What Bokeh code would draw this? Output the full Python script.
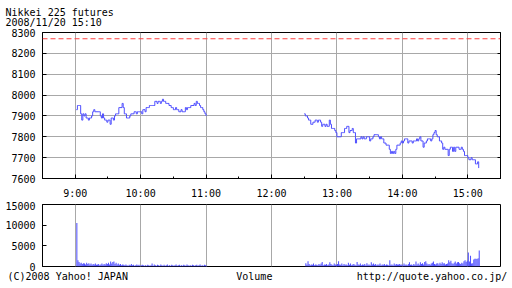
from bokeh.plotting import figure
from bokeh.models import (FixedTicker, LinearAxis, Span, Range1d, Title,
                          CustomJSTickFormatter)
from bokeh.layouts import column
from bokeh.embed import file_html
from bokeh.resources import INLINE

TITLE = "Nikkei 225 futures"
STAMP = "2008/11/20 15:10"
FOOT_LEFT = "(C)2008 Yahoo! JAPAN"
FOOT_MID = "Volume"
FOOT_RIGHT = "http://quote.yahoo.co.jp/"

hour_ticks = [9, 10, 11, 12, 13, 14, 15]
hour_labels = ["9:00", "10:00", "11:00", "12:00", "13:00", "14:00", "15:00"]
half_ticks = [8.5, 9.5, 10.5, 11.5, 12.5, 13.5, 14.5, 15.5]
price_ticks = [7600, 7700, 7800, 7900, 8000, 8100, 8200, 8300]
volume_ticks = [0, 5000, 10000, 15000]
prev_close = 8270

# morning session: one close per minute, 9:01 .. 11:00
am_start_min = 9 * 60 + 1
am_price = [
    7930, 7950, 7950, 7950, 7910, 7880, 7910, 7900, 7910, 7890,
    7890, 7880, 7890, 7890, 7900, 7920, 7930, 7920, 7920, 7920,
    7920, 7920, 7900, 7890, 7910, 7890, 7880, 7880, 7870, 7880,
    7880, 7860, 7890, 7890, 7880, 7900, 7910, 7910, 7910, 7940,
    7940, 7940, 7960, 7940, 7910, 7910, 7890, 7890, 7890, 7900,
    7910, 7910, 7910, 7920, 7920, 7910, 7920, 7920, 7920, 7920,
    7910, 7930, 7930, 7920, 7940, 7940, 7940, 7950, 7950, 7950,
    7950, 7950, 7970, 7970, 7960, 7970, 7970, 7960, 7970, 7980,
    7970, 7970, 7960, 7960, 7960, 7950, 7950, 7940, 7940, 7930,
    7930, 7940, 7930, 7930, 7920, 7920, 7930, 7920, 7920, 7920,
    7940, 7930, 7940, 7940, 7940, 7950, 7950, 7950, 7960, 7950,
    7970, 7960, 7960, 7950, 7940, 7940, 7930, 7920, 7910, 7900,
]
am_volume = [
    10500, 1500, 1100, 700, 900, 600, 800, 700, 500, 900,
    600, 800, 500, 700, 400, 600, 500, 700, 400, 500,
    600, 300, 500, 700, 400, 600, 500, 800, 600, 900,
    500, 1200, 700, 1100, 1200, 600, 900, 500, 700, 400,
    600, 300, 500, 400, 300, 500, 300, 200, 400, 300,
    600, 300, 400, 200, 300, 500, 300, 400, 200, 300,
    400, 300, 200, 300, 200, 400, 300, 200, 300, 700,
    200, 500, 300, 200, 400, 300, 200, 500, 300, 200,
    400, 200, 300, 500, 200, 300, 200, 400, 300, 200,
    300, 500, 200, 300, 400, 200, 300, 200, 400, 300,
    200, 500, 300, 200, 300, 200, 400, 300, 200, 300,
    400, 200, 300, 500, 200, 300, 200, 400, 300, 200,
]

# afternoon session: one close per minute, 12:30 .. 15:10
pm_start_min = 12 * 60 + 30
pm_price = [
    7910, 7900, 7900, 7890, 7880, 7880, 7860, 7860, 7870, 7870,
    7880, 7880, 7870, 7880, 7880, 7870, 7850, 7860, 7860, 7850,
    7860, 7850, 7850, 7880, 7860, 7840, 7840, 7840, 7830, 7820,
    7800, 7800, 7800, 7800, 7820, 7820, 7820, 7840, 7840, 7850,
    7850, 7820, 7830, 7830, 7840, 7820, 7820, 7770, 7790, 7790,
    7790, 7790, 7800, 7790, 7800, 7790, 7790, 7800, 7800, 7800,
    7780, 7790, 7790, 7800, 7810, 7810, 7810, 7810, 7800, 7790,
    7800, 7790, 7790, 7770, 7770, 7760, 7760, 7760, 7740, 7720,
    7730, 7720, 7730, 7720, 7740, 7760, 7760, 7760, 7770, 7780,
    7770, 7780, 7790, 7790, 7790, 7770, 7780, 7780, 7780, 7770,
    7780, 7780, 7780, 7790, 7780, 7790, 7800, 7780, 7780, 7750,
    7770, 7770, 7780, 7790, 7790, 7790, 7780, 7790, 7810, 7820,
    7830, 7810, 7800, 7800, 7780, 7780, 7770, 7740, 7750, 7740,
    7740, 7740, 7710, 7740, 7750, 7750, 7730, 7750, 7730, 7750,
    7750, 7750, 7740, 7740, 7750, 7740, 7730, 7710, 7710, 7710,
    7700, 7690, 7690, 7700, 7690, 7690, 7690, 7670, 7670, 7680,
    7650,
]
pm_vol_start_min = 12 * 60 + 31
pm_volume = [
    800, 400, 1300, 600, 300, 500, 400, 700, 300, 500,
    400, 300, 600, 400, 700, 1100, 300, 500, 400, 600,
    300, 500, 1000, 600, 400, 300, 700, 500, 400, 600,
    1300, 500, 400, 700, 300, 600, 400, 500, 300, 900,
    400, 700, 300, 500, 600, 400, 300, 1100, 500, 400,
    700, 300, 500, 400, 600, 300, 800, 400, 500, 300,
    1000, 500, 700, 400, 600, 300, 500, 400, 700, 300,
    500, 400, 600, 300, 500, 400, 300, 1500, 400, 500,
    300, 700, 400, 600, 500, 500, 600, 400, 500, 300,
    700, 400, 500, 300, 600, 1000, 400, 500, 300, 600,
    400, 1200, 500, 700, 400, 1000, 600, 800, 500, 1100,
    1300, 700, 500, 600, 400, 700, 900, 1200, 600, 500,
    700, 800, 500, 900, 600, 1000, 700, 800, 500, 600,
    700, 1500, 1000, 1400, 800, 600, 900, 1200, 700, 1000,
    1100, 800, 600, 900, 700, 1300, 1500, 1100, 1400, 3400,
    1200, 2600, 700, 800, 1700, 1900, 1900, 1800, 2000, 3900,
]

am_t = [(am_start_min + i) / 60 for i in range(len(am_price))]
am_vt = [(am_start_min + i + 0.5) / 60 for i in range(len(am_volume))]
pm_t = [(pm_start_min + i) / 60 for i in range(len(pm_price))]
pm_vt = [(pm_vol_start_min + i + 0.5) / 60 for i in range(len(pm_volume))]

FONT = "DejaVu Sans Mono"
FS = "10px"
BLUE = "#4f4fff"
GRID = "#a8a8a8"
W = 512
LEFT, RIGHT = 42, 12
NB = "\u00a0"

xr = Range1d(8.5, 15.5)


def style_axis(ax, ticks, minor, labels=None, tick_in=4):
    ax.ticker = FixedTicker(ticks=ticks, minor_ticks=minor)
    ax.major_tick_in = tick_in
    ax.major_tick_out = 0
    ax.minor_tick_in = 2 if minor else 0
    ax.minor_tick_out = 0
    ax.axis_line_color = "black"
    ax.major_tick_line_color = "black"
    ax.minor_tick_line_color = "black"
    ax.major_label_text_font = FONT
    ax.major_label_text_color = "black"
    ax.major_label_text_font_size = FS
    ax.major_label_standoff = 6
    if labels:
        ax.major_label_overrides = labels


# ---- price panel ----
p = figure(width=W, height=201, x_range=xr, y_range=Range1d(7600, 8300),
           output_backend="svg", toolbar_location=None,
           min_border_left=LEFT, min_border_right=RIGHT, min_border_top=32,
           min_border_bottom=21)
p.background_fill_color = "white"
p.border_fill_color = "white"
p.outline_line_color = "black"
p.outline_line_alpha = 1
xlab = {t: s for t, s in zip(hour_ticks, hour_labels)}
style_axis(p.xaxis[0], hour_ticks, half_ticks, labels=xlab)
p.xaxis[0].major_label_standoff = 9
style_axis(p.yaxis[0], price_ticks, [])
p.yaxis[0].major_label_standoff = 7
ax_r = LinearAxis()
style_axis(ax_r, price_ticks, [], tick_in=3)
ax_r.formatter = CustomJSTickFormatter(code="return ''")
ax_r.major_label_standoff = 0
p.add_layout(ax_r, "right")
p.xgrid[0].ticker = FixedTicker(ticks=hour_ticks)
p.ygrid[0].ticker = FixedTicker(ticks=price_ticks)
p.xgrid.grid_line_color = GRID
p.ygrid.grid_line_color = GRID
p.xgrid.grid_line_alpha = 1
p.ygrid.grid_line_alpha = 1

p.add_layout(Title(text=TITLE + "\n" + STAMP, align="left", offset=5 - LEFT,
                   standoff=8, text_font=FONT, text_font_size=FS,
                   text_font_style="normal", text_color="black",
                   text_line_height=0.97, vertical_align="bottom"), "above")

p.add_layout(Span(location=prev_close, dimension="width", line_color="#ff4040",
                  line_dash="5 3", line_width=1))
p.step(am_t, am_price, mode="after", line_color=BLUE, line_width=1)
p.step(pm_t, pm_price, mode="after", line_color=BLUE, line_width=1)

# ---- volume panel ----
v = figure(width=W, height=87, x_range=xr, y_range=Range1d(0, 15000),
           output_backend="svg", toolbar_location=None,
           min_border_left=LEFT, min_border_right=RIGHT, min_border_top=3,
           min_border_bottom=21, x_axis_location=None)
v.background_fill_color = "white"
v.border_fill_color = "white"
v.outline_line_color = "black"
v.outline_line_alpha = 1
style_axis(v.yaxis[0], volume_ticks, [])
v.yaxis[0].major_label_standoff = 7
v.xgrid[0].ticker = FixedTicker(ticks=hour_ticks)
v.xgrid.grid_line_color = GRID
v.xgrid.grid_line_alpha = 1
v.ygrid.grid_line_color = None
v.vbar(x=am_vt, top=am_volume, width=0.95 / 60, fill_color=BLUE, line_color=None)
v.vbar(x=pm_vt, top=pm_volume, width=0.95 / 60, fill_color=BLUE, line_color=None)

# footer: one monospaced line, the three parts spaced with no-break spaces
footer = FOOT_LEFT + NB * 18 + FOOT_MID + NB * 14 + FOOT_RIGHT
v.add_layout(Title(text=footer, align="left", offset=7 - LEFT, standoff=9,
                   text_font=FONT, text_font_size=FS, text_font_style="normal",
                   text_color="black", vertical_align="top"), "below")

layout = column(p, v, spacing=0)
open("out.html", "w").write(file_html(layout, INLINE))
